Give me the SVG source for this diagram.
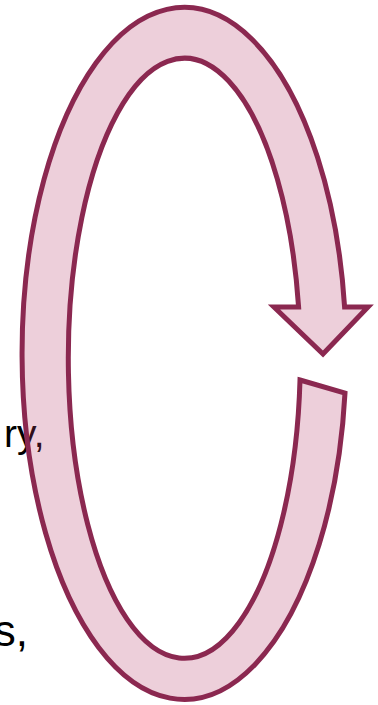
<svg xmlns="http://www.w3.org/2000/svg" width="378" height="705" viewBox="0 0 378 705">
<style>
.lbl{font-family:"Liberation Sans",Arial,sans-serif;fill:#000}
.arrow{fill:#B73F6B;fill-opacity:0.25;stroke:#8B2850;stroke-width:5;stroke-linejoin:miter}
</style>
<rect width="378" height="705" fill="#fff"/>
<g id="texts">
<text class="lbl" x="44.5" y="447" font-size="39" text-anchor="end">ry,</text>
<text class="lbl" x="28" y="646" font-size="44" text-anchor="end">s,</text>
</g>
<g id="cycle-arrow">
<path class="arrow" d="M300,380 L345,393 A162,346 0 1 1 344.6,307 L368,307 L323,354 L274,307 L298.6,307 A116,300 0 1 0 300,380 Z"/>
</g>
</svg>
